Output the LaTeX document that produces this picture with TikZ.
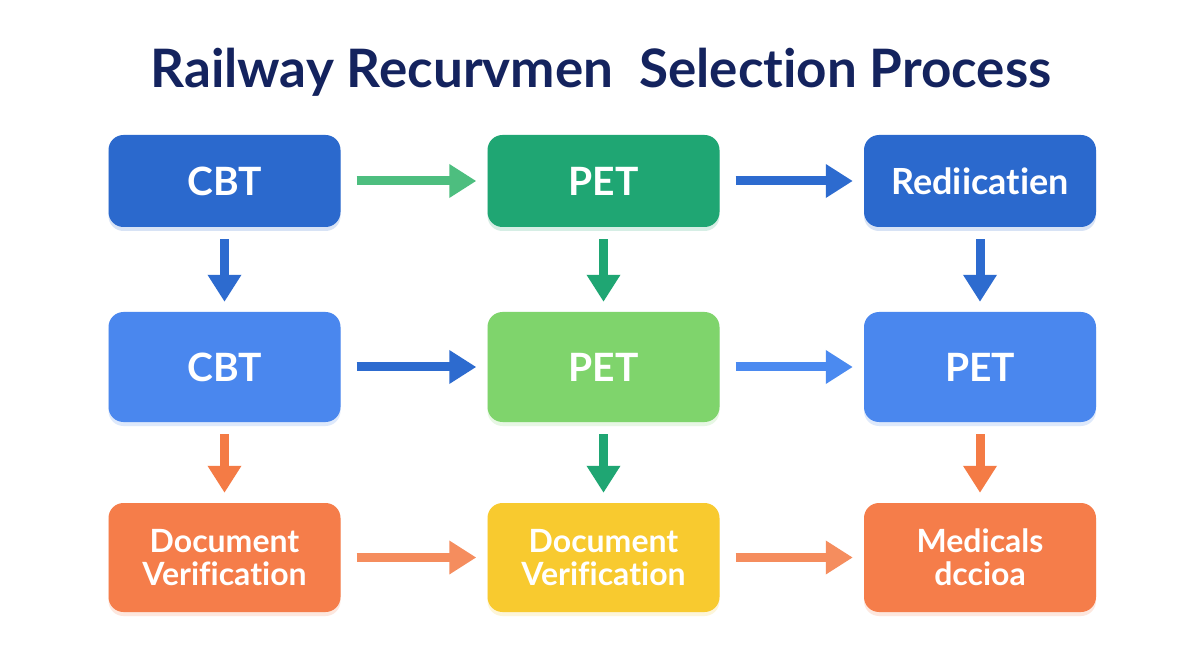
\documentclass[tikz,border=0pt]{standalone}
\usepackage{fontspec}
\setmainfont{Lato}[Ligatures=NoCommon]
\usetikzlibrary{arrows.meta,shadows}
\definecolor{navy}{HTML}{14235E}
\definecolor{blueD}{HTML}{2B69CD}
\definecolor{greenD}{HTML}{1FA673}
\definecolor{blueL}{HTML}{4A87EE}
\definecolor{greenL}{HTML}{7FD46C}
\definecolor{orangeB}{HTML}{F57D4A}
\definecolor{yellowB}{HTML}{F8CA2F}
\definecolor{arGreenL}{HTML}{4DBE7F}
\definecolor{arBlueD}{HTML}{2D6BCF}
\definecolor{arBlueL}{HTML}{4B8AF0}
\definecolor{arOrangeL}{HTML}{F58D5E}
\definecolor{arOrange}{HTML}{F47B45}
\tikzset{
  box/.style={rounded corners=15pt, minimum width=232pt, align=center,
    text=white, font=\fontsize{32}{33}\selectfont\bfseries,
    drop shadow={opacity=0.18, shadow xshift=0pt, shadow yshift=-4pt, fill=#1},
    fill=#1},
  bigtext/.style={font=\fontsize{39}{40}\selectfont\bfseries},
  midtext/.style={font=\fontsize{36}{38}\selectfont\bfseries},
  flow/.style={line width=9pt, draw=#1,
    -{Triangle[length=27pt,width=32pt]}},
  hflow/.style={flow=#1, shorten <=16pt, shorten >=11pt},
  vflow/.style={flow=#1, shorten <=12pt, shorten >=10pt},
}
\begin{document}
\begin{tikzpicture}[x=1pt,y=-1pt]
\useasboundingbox[fill=white] (0,0) rectangle (1200,660);
\node[text=navy, anchor=base, inner sep=0pt, font=\fontsize{53}{58}\selectfont\bfseries] (title) at (601,88) {Railway Recurvmen\ \ Selection Process};
% row 1
\node[box=blueD, bigtext, minimum height=92pt] (a1) at (224.5,181) {CBT};
\node[box=greenD, bigtext, minimum height=92pt] (b1) at (603.5,181) {PET};
\node[box=blueD, midtext, minimum height=92pt] (c1) at (980,181) {Rediicatien};
% row 2
\node[box=blueL, bigtext, minimum height=110pt] (a2) at (224.5,367) {CBT};
\node[box=greenL, bigtext, minimum height=110pt] (b2) at (603.5,367) {PET};
\node[box=blueL, bigtext, minimum height=110pt] (c2) at (980,367) {PET};
% row 3
\node[box=orangeB, minimum height=109pt] (a3) at (224.5,557.5) {Document\\Verification};
\node[box=yellowB, minimum height=109pt] (b3) at (603.5,557.5) {Document\\Verification};
\node[box=orangeB, minimum height=109pt] (c3) at (980,557.5) {Medicals\\dccioa};
% horizontal
\draw[hflow=arGreenL] (a1) -- (b1);
\draw[hflow=arBlueD] (b1) -- (c1);
\draw[hflow=arBlueD] (a2) -- (b2);
\draw[hflow=arBlueL] (b2) -- (c2);
\draw[hflow=arOrangeL] (a3) -- (b3);
\draw[hflow=arOrangeL] (b3) -- (c3);
% vertical
\draw[vflow=arBlueD] (a1) -- (a2);
\draw[vflow=greenD] (b1) -- (b2);
\draw[vflow=arBlueD] (c1) -- (c2);
\draw[vflow=arOrange] (a2) -- (a3);
\draw[vflow=greenD] (b2) -- (b3);
\draw[vflow=arOrange] (c2) -- (c3);
\end{tikzpicture}
\end{document}
